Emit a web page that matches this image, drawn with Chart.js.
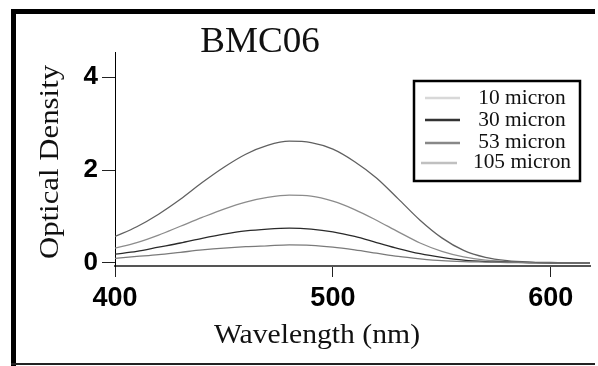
<!DOCTYPE html>
<html>
<head>
<meta charset="utf-8">
<script src="https://cdn.jsdelivr.net/npm/chart.js@4"></script>
<style>
  html, body { margin: 0; padding: 0; background: #fff; }
  #wrap { position: relative; width: 598px; height: 366px; }
</style>
</head>
<body>
<div id="wrap"><canvas id="chart" width="598" height="366"></canvas></div>
<script>
// wavelength grid (nm) and optical density
const wavelengths = [400, 410, 420, 430, 440, 450, 460, 470, 480, 490, 500, 510, 520, 530, 540, 550, 560, 570, 580, 590, 600, 610, 618];
const od10  = [0.10, 0.14, 0.18, 0.23, 0.28, 0.32, 0.35, 0.37, 0.39, 0.38, 0.34, 0.28, 0.21, 0.14, 0.09, 0.05, 0.03, 0.02, 0.01, 0.005, 0.0, 0.0, 0.0];
const od30  = [0.19, 0.25, 0.34, 0.43, 0.53, 0.62, 0.69, 0.73, 0.75, 0.73, 0.67, 0.57, 0.44, 0.31, 0.20, 0.12, 0.06, 0.03, 0.02, 0.01, 0.0, 0.0, 0.0];
const od53  = [0.32, 0.44, 0.60, 0.79, 0.98, 1.16, 1.31, 1.41, 1.46, 1.44, 1.33, 1.15, 0.92, 0.67, 0.43, 0.25, 0.13, 0.06, 0.03, 0.01, 0.0, 0.0, 0.0];
const od105 = [0.57, 0.78, 1.05, 1.37, 1.73, 2.06, 2.34, 2.53, 2.62, 2.59, 2.45, 2.18, 1.83, 1.38, 0.92, 0.54, 0.27, 0.12, 0.05, 0.02, 0.01, 0.0, 0.0];

const seriesLabels = ["10 micron", "30 micron", "53 micron", "105 micron"];
const seriesData = [od10, od30, od53, od105];
const curveColors = ["#7a7a7a", "#2a2a2a", "#8c8c8c", "#606060"];
const legendColors = ["#d8d8d8", "#333333", "#888888", "#c0c0c0"];
const xTicks = [400, 500, 600];
const yTicks = [0, 2, 4];

const serif = '"Liberation Serif", "Times New Roman", serif';

function stretchedText(ctx, text, x, y, font, sx, angle) {
  ctx.save();
  ctx.translate(x, y);
  if (angle) ctx.rotate(angle);
  ctx.scale(sx, 1);
  ctx.font = font;
  ctx.fillStyle = "#111";
  ctx.textAlign = "center";
  ctx.textBaseline = "alphabetic";
  ctx.fillText(text, 0, 0);
  ctx.restore();
}

// frame, titles and boxed legend
const decorPlugin = {
  id: "decor",
  beforeDraw(chart) {
    const ctx = chart.ctx;
    ctx.save();
    ctx.fillStyle = "#fff";
    ctx.fillRect(0, 0, chart.width, chart.height);
    ctx.restore();
  },
  afterDraw(chart) {
    const ctx = chart.ctx;
    ctx.save();
    ctx.fillStyle = "#000";
    ctx.fillRect(11, 9, 584, 5);
    ctx.fillRect(11, 9, 5, 357);
    ctx.fillStyle = "#222";
    ctx.fillRect(11, 363, 584, 2);
    ctx.restore();

    stretchedText(ctx, "BMC06", 260, 52, "36px " + serif, 1.03);
    stretchedText(ctx, "Wavelength (nm)", 317, 343, "28px " + serif, 1.06);
    stretchedText(ctx, "Optical Density", 58, 162, "28px " + serif, 1.1, -Math.PI / 2);

    // legend box
    ctx.save();
    ctx.strokeStyle = "#000";
    ctx.lineWidth = 2.5;
    ctx.strokeRect(414, 81, 166, 100);
    const lineY = [98, 120, 143, 163];
    seriesLabels.forEach((lab, i) => {
      ctx.strokeStyle = legendColors[i];
      ctx.lineWidth = 2.5;
      ctx.beginPath();
      ctx.moveTo(i === 3 ? 421 : 425, lineY[i]);
      ctx.lineTo(i === 3 ? 457 : 460, lineY[i]);
      ctx.stroke();
    });
    ctx.restore();
    const textY = [104, 126, 148, 168];
    seriesLabels.forEach((lab, i) => {
      stretchedText(ctx, lab, 522, textY[i], "21px " + serif, 1.02);
    });
  }
};

new Chart(document.getElementById("chart"), {
  type: "line",
  data: {
    datasets: seriesLabels.map((lab, i) => ({
      label: lab,
      data: wavelengths.map((w, j) => ({ x: w, y: seriesData[i][j] })),
      borderColor: curveColors[i],
      borderWidth: 1.3,
      pointRadius: 0,
      fill: false,
      cubicInterpolationMode: "monotone"
    }))
  },
  options: {
    responsive: false,
    animation: false,
    layout: { padding: { left: 0, right: 8, top: 52, bottom: 0 } },
    plugins: {
      legend: { display: false },
      tooltip: { enabled: false },
      title: { display: false }
    },
    scales: {
      x: {
        type: "linear",
        min: 400,
        max: 618,
        afterBuildTicks: s => { s.ticks = xTicks.map(v => ({ value: v })); },
        afterFit: s => { s.height = 100; },
        grid: { drawOnChartArea: false, tickLength: 11, color: "#222", tickWidth: 1 },
        border: { color: "#555", width: 2 },
        ticks: {
          color: "#000",
          padding: 5,
          maxRotation: 0,
          font: { family: '"Liberation Sans", Arial, sans-serif', size: 27, weight: "bold" }
        }
      },
      y: {
        min: -0.065,
        max: 4.54,
        afterBuildTicks: s => { s.ticks = yTicks.map(v => ({ value: v })); },
        afterFit: s => { s.width = 115; },
        grid: { drawOnChartArea: false, tickLength: 13, color: "#222", tickWidth: 1 },
        border: { color: "#000", width: 1 },
        ticks: {
          color: "#000",
          padding: 4,
          font: { family: '"Liberation Sans", Arial, sans-serif', size: 26, weight: "bold" }
        }
      }
    }
  },
  plugins: [decorPlugin]
});
</script>
</body>
</html>
